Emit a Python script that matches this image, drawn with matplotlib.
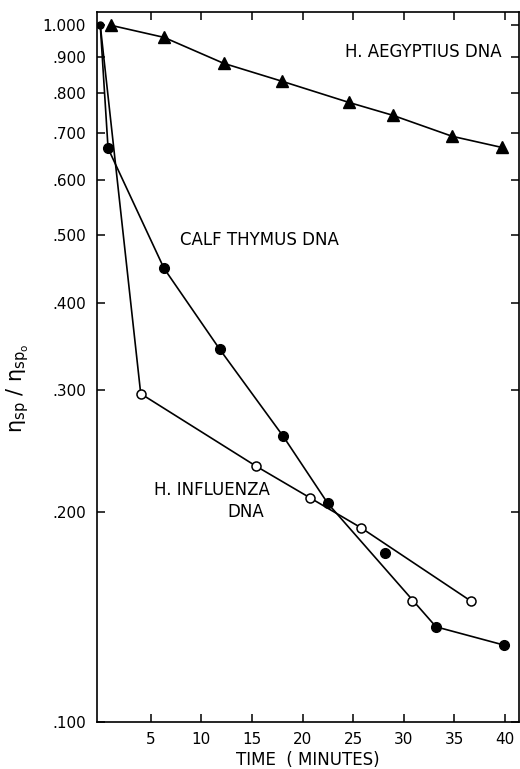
import numpy as np
import matplotlib
matplotlib.use("Agg")
import matplotlib.pyplot as plt
from matplotlib.ticker import FixedLocator, NullLocator

# viscosity ratio vs time for the three DNAs
aeg_t = [1.06, 6.3, 12.2, 18.0, 24.6, 28.9, 34.8, 39.7]
aeg_r = [1.000, 0.961, 0.882, 0.831, 0.775, 0.743, 0.693, 0.668]

calf_t = [0.0, 0.77, 6.3, 11.8, 18.1, 22.5, 33.2, 39.9]
calf_r = [1.000, 0.666, 0.448, 0.343, 0.257, 0.206, 0.137, 0.129]
calf_extra_t = [28.2]
calf_extra_r = [0.175]

infl_t = [0.0, 4.0, 15.4, 20.7, 25.8, 36.7]
infl_r = [1.000, 0.296, 0.233, 0.210, 0.190, 0.149]
infl_extra_t = [30.8]
infl_extra_r = [0.149]

x_ticks = [5, 10, 15, 20, 25, 30, 35, 40]
y_ticks = [0.1, 0.2, 0.3, 0.4, 0.5, 0.6, 0.7, 0.8, 0.9, 1.0]
y_labels = [".100", ".200", ".300", ".400", ".500", ".600", ".700", ".800", ".900", "1.000"]

fig = plt.figure(figsize=(5.2, 7.69), dpi=100)
ax = fig.add_axes([0.187, 0.061, 0.811, 0.923])

lw = 1.2
ax.plot(aeg_t, aeg_r, color="black", lw=lw, marker="^", ms=8, zorder=3)
ax.plot(calf_t[1:], calf_r[1:], color="black", lw=lw, marker="o", ms=7, zorder=3)
ax.plot(calf_t[:2], calf_r[:2], color="black", lw=lw, zorder=2)
ax.plot(calf_extra_t, calf_extra_r, ls="none", marker="o", ms=7, color="black", zorder=3)
ax.plot(infl_t[1:], infl_r[1:], color="black", lw=lw, marker="o", ms=6.5,
        mfc="white", mec="black", mew=1.1, zorder=4)
ax.plot(infl_t[:2], infl_r[:2], color="black", lw=lw, zorder=2)
ax.plot(infl_extra_t, infl_extra_r, ls="none", marker="o", ms=6.5,
        mfc="white", mec="black", mew=1.1, zorder=4)
ax.plot([0.0], [1.0], ls="none", marker="o", ms=5, color="black", zorder=3)

ax.set_yscale("log")
ax.set_xlim(-0.3, 41.4)
ax.set_ylim(0.1, 1.044)

ax.yaxis.set_major_locator(FixedLocator(y_ticks))
ax.yaxis.set_minor_locator(NullLocator())
ax.set_yticklabels(y_labels)
ax.set_xticks(x_ticks)
ax.set_xticklabels([str(v) for v in x_ticks])

ax.tick_params(axis="both", direction="in", length=6, width=1.1,
               top=True, right=True, labelsize=11)
ax.tick_params(axis="y", pad=8)
ax.tick_params(axis="x", pad=7)
for s in ax.spines.values():
    s.set_linewidth(1.2)

ax.text(39.7, 0.915, "H. AEGYPTIUS DNA", fontsize=12, ha="right", va="center")
ax.text(7.9, 0.492, "CALF THYMUS DNA", fontsize=12, ha="left", va="center")
ax.text(5.3, 0.2153, "H. INFLUENZA", fontsize=12, ha="left", va="center")
ax.text(12.6, 0.200, "DNA", fontsize=12, ha="left", va="center")

ax.set_xlabel("TIME  ( MINUTES)", fontsize=12, labelpad=3)
ax.set_ylabel(r"$\mathregular{\eta_{sp}\ /\ \eta_{sp_o}}$", fontsize=15)
ax.yaxis.set_label_coords(-0.156, 0.47)

fig.savefig("out.png", dpi=100)
